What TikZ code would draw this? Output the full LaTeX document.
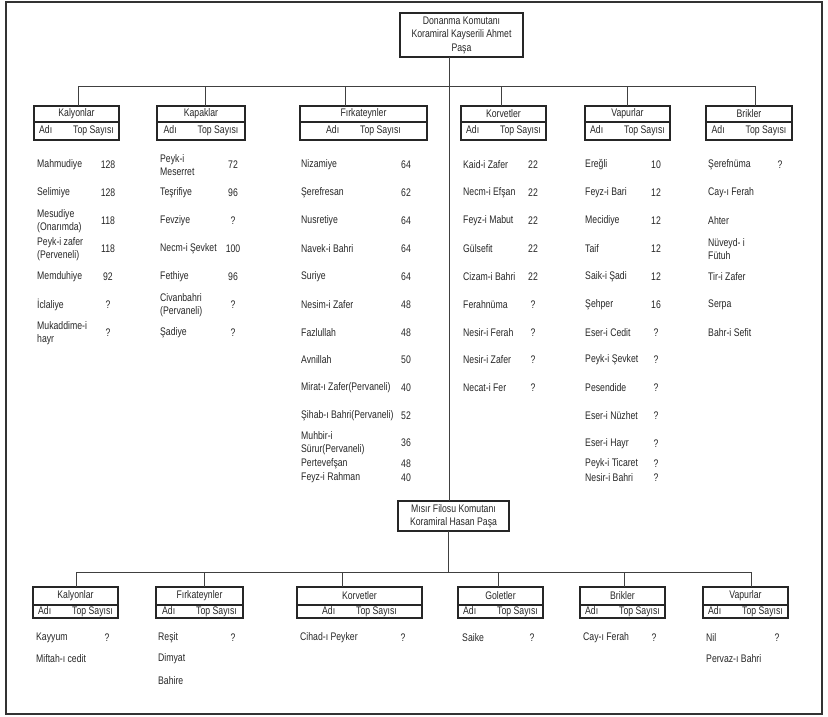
\documentclass[tikz,border=0pt]{standalone}
\usepackage{fontspec}
\setmainfont[FakeStretch=0.79]{Liberation Sans}
\newcommand\catbox[7]{%
  \node[box, minimum width={#3pt-#2pt}, minimum height={#6pt-#4pt}] (#1) at ({(#2+#3)/2},{(#4+#6)/2}) {};
  \draw[divline] (#2,#5) -- (#3,#5);
  \node[txt] (#1-t) at ({(#2+#3)/2},{(#4+#5)/2}) {#7};
  \node[txt] (#1-s) at ({(#2+#3)/2},{(#5+#6)/2}) {Adı\hspace{21pt}Top Sayısı};
}
\newcommand\shipcol[4]{%
  \foreach \y/\a/\b [count=\i] in {#4} {
    \node[nm] (#1n\i) at (#2,\y) {\a};
    \node[num] (#1v\i) at (#3,\y) {\b};
  }}
\newcommand\namecol[3]{%
  \foreach \y/\a [count=\i] in {#3} {
    \node[nm] (#1n\i) at (#2,\y) {\a};
  }}
\begin{document}
\begin{tikzpicture}[x=1pt,y=-1pt,
  txt/.style={font=\fontsize{11}{13.5}\selectfont, inner sep=0pt, text=black!85},
  nm/.style={txt, anchor=west, align=left},
  num/.style={txt, anchor=center},
  box/.style={draw=black!85, line width=1.7pt, inner sep=0pt, outer sep=0pt},
  divline/.style={draw=black!85, line width=1.4pt},
  conn/.style={draw=black!75, line width=0.9pt}]
\useasboundingbox (0,0) rectangle (828,716);
\draw[line width=1.8pt, black!80] (6,2) rectangle (822,714);

% commanders
\node[box, txt, draw=black!85, minimum width=123pt, minimum height=44pt, align=center] (top) at (461.5,35) {Donanma Komutanı\\Koramiral Kayserili Ahmet\\Paşa};
\node[box, txt, draw=black!85, minimum width=111pt, minimum height=30pt, align=center] (misir) at (453.5,516) {Mısır Filosu Komutanı\\Koramiral Hasan Paşa};

% top row categories
\catbox{kal}{34}{119}{106}{122}{140}{Kalyonlar}
\catbox{kap}{157}{245}{106}{122}{140}{Kapaklar}
\catbox{fir}{300}{427}{106}{122}{140}{Fırkateynler}
\catbox{kor}{461}{546}{106}{122}{140}{Korvetler}
\catbox{vap}{585}{670}{106}{122}{140}{Vapurlar}
\catbox{bri}{706}{792}{106}{122}{140}{Brikler}

% bottom row categories
\catbox{mkal}{33}{118}{587}{605}{618}{Kalyonlar}
\catbox{mfir}{156}{243}{587}{605}{618}{Fırkateynler}
\catbox{mkor}{297}{422}{587}{605}{618}{Korvetler}
\catbox{mgol}{458}{543}{587}{605}{618}{Goletler}
\catbox{mbri}{580}{665}{587}{605}{618}{Brikler}
\catbox{mvap}{703}{788}{587}{605}{618}{Vapurlar}

% connectors top
\coordinate (sp) at (449,86);
\draw[conn] (top.south -| sp) -- (misir.north -| sp);
\coordinate (busA) at (78,86);
\coordinate (busB) at (755,86);
\draw[conn] (busA) -- (busB);
\foreach \n/\x in {kal/78, kap/205, fir/345, kor/501, vap/627, bri/755} {
  \coordinate (c-\n) at (\x,86);
  \draw[conn] (c-\n) -- (c-\n |- \n.north);
}
% connectors bottom
\coordinate (sp2) at (448,572);
\draw[conn] (misir.south -| sp2) -- (sp2);
\coordinate (busC) at (76,572);
\coordinate (busD) at (751,572);
\draw[conn] (busC) -- (busD);
\foreach \n/\x in {mkal/76, mfir/204, mkor/342, mgol/498, mbri/624, mvap/751} {
  \coordinate (c-\n) at (\x,572);
  \draw[conn] (c-\n) -- (c-\n |- \n.north);
}

% top data
\shipcol{kl}{37}{108}{165/Mahmudiye/128, 193/Selimiye/128, 221/{Mesudiye\\(Onarımda)}/118, 249/{Peyk-i zafer\\(Perveneli)}/118, 277/Memduhiye/92, 305/İclaliye/?, 333/{Mukaddime-i\\hayr}/?}
\shipcol{kp}{160}{233}{165/{Peyk-i\\Meserret}/72, 193/Teşrifiye/96, 221/Fevziye/?, 249/Necm-i Şevket/100, 277/Fethiye/96, 305/{Civanbahri\\(Pervaneli)}/?, 333/Şadiye/?}
\shipcol{fk}{301}{406}{165/Nizamiye/64, 193/Şerefresan/62, 221/Nusretiye/64, 249/Navek-i Bahri/64, 277/Suriye/64, 305/Nesim-i Zafer/48, 333/Fazlullah/48, 360/Avnillah/50, 388/Mirat-ı Zafer(Pervaneli)/40, 416/Şihab-ı Bahri(Pervaneli)/52, 443/{Muhbir-i\\Sürur(Pervaneli)}/36, 464/Pertevefşan/48, 478/Feyz-i Rahman/40}
\shipcol{kv}{463}{533}{165/Kaid-i Zafer/22, 193/Necm-i Efşan/22, 221/Feyz-i Mabut/22, 249/Gülsefit/22, 277/Cizam-i Bahri/22, 305/Ferahnüma/?, 333/Nesir-i Ferah/?, 360/Nesir-i Zafer/?, 388/Necat-i Fer/?}
\shipcol{vp}{585}{656}{165/Ereğli/10, 193/Feyz-i Bari/12, 221/Mecidiye/12, 249/Taif/12, 277/Saik-i Şadi/12, 305/Şehper/16, 333/Eser-i Cedit/?, 360/Peyk-i Şevket/?, 388/Pesendide/?, 416/Eser-i Nüzhet/?, 444/Eser-i Hayr/?, 464/Peyk-i Ticaret/?, 478/Nesir-i Bahri/?}
\namecol{br}{708}{165/Şerefnüma, 193/Cay-ı Ferah, 221/Ahter, 249/{Nüveyd- i\\Fütuh}, 277/Tir-i Zafer, 305/Serpa, 333/Bahr-i Sefit}
\node[num] (brv1) at (780,165) {?};

% bottom data
\node[nm] (mkn1) at (36,638) {Kayyum};
\node[num] (mkv1) at (107,638) {?};
\node[nm] (mkn2) at (36,659) {Miftah-ı cedit};
\node[nm] (mfn1) at (158,638) {Reşit};
\node[num] (mfv1) at (233,638) {?};
\node[nm] (mfn2) at (158,659) {Dimyat};
\node[nm] (mfn3) at (158,681) {Bahire};
\node[nm] (mrn1) at (300,638) {Cihad-ı Peyker};
\node[num] (mrv1) at (403,638) {?};
\node[nm] (mgn1) at (462,638) {Saike};
\node[num] (mgv1) at (532,638) {?};
\node[nm] (mbn1) at (583,638) {Cay-ı Ferah};
\node[num] (mbv1) at (654,638) {?};
\node[nm] (mvn1) at (706,638) {Nil};
\node[num] (mvv1) at (777,638) {?};
\node[nm] (mvn2) at (706,659) {Pervaz-ı Bahri};
\end{tikzpicture}
\end{document}
